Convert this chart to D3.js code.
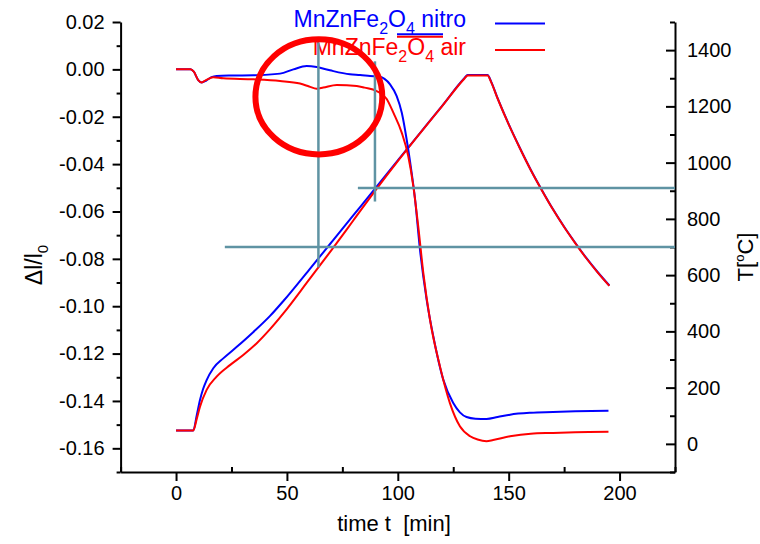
<!DOCTYPE html>
<html>
<head>
<meta charset="utf-8">
<script src="https://cdn.jsdelivr.net/npm/d3@7/dist/d3.min.js"></script>
<style>
  body { margin: 0; background: #fff; }
  text { font-family: Arial, "Liberation Sans", sans-serif; }
  .axis path, .axis line { stroke: #000; stroke-width: 2; }
  .axis text { fill: #000; font-size: 20px; }
</style>
</head>
<body>
<svg id="chart" width="760" height="544"></svg>
<script>
// ---- dilatation ΔL/L0 (left axis) ----
const dlNitroTime  = [0, 6.5, 8, 10, 11.6, 13.5, 16, 18.3, 25, 34.9, 46.9, 52.9, 58.9, 63.4, 69.4, 78.4, 83, 87.5, 92, 94, 96.5, 99.5, 101.8, 104, 105.6, 107.8, 110, 113, 116, 120.5, 125, 128, 131, 135, 140, 145, 150.6, 160, 170, 180, 195];
const dlNitroValue = [0, 0, -0.001, -0.0045, -0.0055, -0.0048, -0.0033, -0.0028, -0.0026, -0.0025, -0.0018, 0.0, 0.0014, 0.001, -0.0004, -0.0021, -0.0024, -0.0028, -0.0031, -0.004, -0.0063, -0.0113, -0.0183, -0.0296, -0.0394, -0.055, -0.0761, -0.0972, -0.1127, -0.131, -0.1409, -0.1448, -0.1468, -0.1475, -0.1476, -0.1468, -0.1458, -0.145, -0.1447, -0.1444, -0.1441];

const dlAirTime  = [0, 6.5, 8, 10, 11.6, 13.5, 16.8, 21.3, 34.9, 46.9, 55.9, 60, 63.4, 66.4, 72.5, 81.5, 85, 90.5, 95, 98, 101.8, 104.7, 107, 109.2, 111.5, 114.5, 119, 123.5, 128, 132.6, 136, 140, 143, 150.6, 160, 170, 180, 195];
const dlAirValue = [0, 0, -0.001, -0.0045, -0.0055, -0.0045, -0.0033, -0.0038, -0.0042, -0.0049, -0.006, -0.0072, -0.0082, -0.0077, -0.0066, -0.007, -0.0077, -0.0092, -0.0125, -0.0183, -0.0268, -0.0366, -0.0493, -0.0662, -0.0859, -0.1056, -0.1254, -0.1409, -0.1507, -0.1549, -0.1563, -0.157, -0.1565, -0.1549, -0.1538, -0.1535, -0.1532, -0.153];

// ---- furnace temperature (right axis) ----
const tempNitroTime  = [0, 7.8, 9.3, 10.8, 12.2, 13.8, 16.8, 21.3, 27.4, 34.9, 42.4, 48.4, 60, 70, 80, 90, 100, 110, 120, 130, 131.5, 140.5, 142, 145, 150, 155, 160, 165, 170, 175, 180, 185, 190, 195.4];
const tempNitroValue = [48, 48, 100, 156, 195, 227, 269, 304, 345, 398, 455, 508, 619, 716, 813, 910, 1008, 1105, 1202, 1300, 1312, 1312, 1290, 1229, 1137, 1053, 974, 902, 834, 772, 715, 661, 612, 563];

const tempAirTime  = [0, 7.8, 9.3, 10.8, 13.8, 18.3, 24.3, 30.3, 36.4, 42.4, 48.4, 60, 70, 80, 90, 100, 110, 120, 130, 131.5, 140.5, 142, 145, 150, 155, 160, 165, 170, 175, 180, 185, 190, 195.4];
const tempAirValue = [48, 48, 88, 132, 192, 239, 280, 316, 358, 408, 464, 584, 688, 795, 902, 1005, 1104, 1201, 1298, 1310, 1310, 1288, 1228, 1136, 1052, 973, 901, 833, 771, 714, 660, 611, 562];

// ---- axes ----
const xDomain = [-25, 225];
const leftDomain = [-0.17, 0.02];
const rightDomain = [-100, 1500];
const xMajorTicks = [0, 50, 100, 150, 200];
const xMinorTicks = [-25, 25, 75, 125, 175, 225];
const leftMajorTicks = [0.02, 0.00, -0.02, -0.04, -0.06, -0.08, -0.10, -0.12, -0.14, -0.16];
const leftMinorTicks = [0.01, -0.01, -0.03, -0.05, -0.07, -0.09, -0.11, -0.13, -0.15, -0.17];
const rightMajorTicks = [0, 200, 400, 600, 800, 1000, 1200, 1400];
const rightMinorTicks = [-100, 100, 300, 500, 700, 900, 1100, 1300, 1500];

// ---- guide lines and highlight ----
const guideTempLevels = [910, 700];          // horizontal guides, °C
const guideTempStarts = [82, 22];            // start time of each guide, min
const markerTimes   = [64.2, 89.7];          // vertical guides, min
const markerTops    = [0.0114, 0.0034];      // ΔL/L0 at top end
const markerBottoms = [-0.0836, -0.0558];    // ΔL/L0 at bottom end
const highlightCenter = [64.4, -0.0116];     // time, ΔL/L0
const highlightRadius = [28.6, 0.0243];      // in time and ΔL/L0 units

const seriesNames = ["nitro", "air"];
const seriesColors = ["#0000ff", "#ff0000"];

const svg = d3.select("#chart");
const margin = { left: 120.6, right: 85, top: 22, bottom: 72 };
const W = 760, H = 544;

const x = d3.scaleLinear().domain(xDomain).range([margin.left, W - margin.right]);
const yL = d3.scaleLinear().domain(leftDomain).range([H - margin.bottom, margin.top]);
const yR = d3.scaleLinear().domain(rightDomain).range([H - margin.bottom, margin.top]);

const fmtL = d => d.toFixed(2);

// bottom axis: major ticks outward, minor ticks inward
svg.append("g").attr("class", "axis")
  .attr("transform", `translate(0,${H - margin.bottom})`)
  .call(d3.axisBottom(x).tickValues(xMajorTicks).tickSizeInner(9).tickSizeOuter(0).tickPadding(5).tickFormat(d3.format("d")));
svg.append("g").attr("class", "axis")
  .attr("transform", `translate(0,${H - margin.bottom})`)
  .call(d3.axisBottom(x).tickValues(xMinorTicks).tickSizeInner(-5).tickSizeOuter(0).tickFormat(""))
  .call(g => g.select(".domain").remove());

// left axis
svg.append("g").attr("class", "axis")
  .attr("transform", `translate(${margin.left},0)`)
  .call(d3.axisLeft(yL).tickValues(leftMajorTicks).tickSizeInner(8).tickSizeOuter(0).tickPadding(8).tickFormat(fmtL));
svg.append("g").attr("class", "axis")
  .attr("transform", `translate(${margin.left},0)`)
  .call(d3.axisLeft(yL).tickValues(leftMinorTicks).tickSizeInner(4).tickSizeOuter(0).tickFormat(""))
  .call(g => g.select(".domain").remove());

// right axis: ticks pointing into the plot
svg.append("g").attr("class", "axis")
  .attr("transform", `translate(${W - margin.right},0)`)
  .call(d3.axisRight(yR).tickValues(rightMajorTicks).tickSizeInner(-9).tickSizeOuter(0).tickPadding(12).tickFormat(d3.format("d")));
svg.append("g").attr("class", "axis")
  .attr("transform", `translate(${W - margin.right},0)`)
  .call(d3.axisRight(yR).tickValues(rightMinorTicks).tickSizeInner(-5).tickSizeOuter(0).tickFormat(""))
  .call(g => g.select(".domain").remove());

// axis titles
svg.append("text")
  .attr("x", 394).attr("y", 531)
  .attr("text-anchor", "middle").attr("font-size", 22)
  .style("white-space", "pre")
  .text("time t  [min]");

const lt = svg.append("text")
  .attr("transform", "translate(42,265) rotate(-90)")
  .attr("text-anchor", "middle").attr("font-size", 23);
lt.append("tspan").text("Δl/l");
lt.append("tspan").attr("font-size", 15).attr("dy", 6).text("0");

const rt = svg.append("text")
  .attr("transform", "translate(753,257) rotate(-90)")
  .attr("text-anchor", "middle").attr("font-size", 22);
rt.append("tspan").text("T[");
rt.append("tspan").attr("font-size", 13).attr("dy", -9).text("o");
rt.append("tspan").attr("dy", 9).text("C]");

// curves
const lineL = d3.line().x(d => x(d[0])).y(d => yL(d[1])).curve(d3.curveMonotoneX);
const lineR = d3.line().x(d => x(d[0])).y(d => yR(d[1])).curve(d3.curveMonotoneX);

const tempSeries = [d3.zip(tempNitroTime, tempNitroValue), d3.zip(tempAirTime, tempAirValue)];
const dlSeries = [d3.zip(dlNitroTime, dlNitroValue), d3.zip(dlAirTime, dlAirValue)];

tempSeries.forEach((s, i) => {
  svg.append("path").datum(s).attr("d", lineR)
    .attr("fill", "none").attr("stroke", seriesColors[i]).attr("stroke-width", 2);
});
dlSeries.forEach((s, i) => {
  svg.append("path").datum(s).attr("d", lineL)
    .attr("fill", "none").attr("stroke", seriesColors[i]).attr("stroke-width", 2);
});

// legend
const legendRight = 466;
const legendRows = [27, 55];
const legendLineY = [23.5, 50];
seriesNames.forEach((name, i) => {
  const t = svg.append("text")
    .attr("x", legendRight).attr("y", legendRows[i])
    .attr("text-anchor", "end").attr("font-size", 23).attr("fill", seriesColors[i]);
  t.append("tspan").text("MnZnFe");
  t.append("tspan").attr("font-size", 16).attr("dy", 7).text("2");
  t.append("tspan").attr("dy", -7).text("O");
  t.append("tspan").attr("font-size", 16).attr("dy", 7).text("4");
  t.append("tspan").attr("dy", -7).text(" " + name);
  svg.append("line")
    .attr("x1", 495).attr("x2", 545).attr("y1", legendLineY[i]).attr("y2", legendLineY[i])
    .attr("stroke", seriesColors[i]).attr("stroke-width", 2);
});
// underline stroke under the first subscript 4
seriesColors.forEach((c, i) => {
  svg.append("line")
    .attr("x1", 397).attr("x2", 443).attr("y1", 34.3 + i * 2.4).attr("y2", 34.3 + i * 2.4)
    .attr("stroke", c).attr("stroke-width", 2);
});

// guide lines
const guideColor = "#5f93a3";
guideTempLevels.forEach((T, i) => {
  svg.append("line")
    .attr("x1", x(guideTempStarts[i])).attr("x2", x(xDomain[1]))
    .attr("y1", yR(T)).attr("y2", yR(T))
    .attr("stroke", guideColor).attr("stroke-width", 2.5);
});
markerTimes.forEach((t, i) => {
  svg.append("line")
    .attr("x1", x(t)).attr("x2", x(t))
    .attr("y1", yL(markerTops[i])).attr("y2", yL(markerBottoms[i]))
    .attr("stroke", guideColor).attr("stroke-width", 2.5);
});

// highlight ellipse
svg.append("ellipse")
  .attr("cx", x(highlightCenter[0])).attr("cy", yL(highlightCenter[1]))
  .attr("rx", x(highlightCenter[0] + highlightRadius[0]) - x(highlightCenter[0]))
  .attr("ry", yL(highlightCenter[1]) - yL(highlightCenter[1] + highlightRadius[1]))
  .attr("fill", "none").attr("stroke", "#ff0000").attr("stroke-width", 6);
</script>
</body>
</html>
